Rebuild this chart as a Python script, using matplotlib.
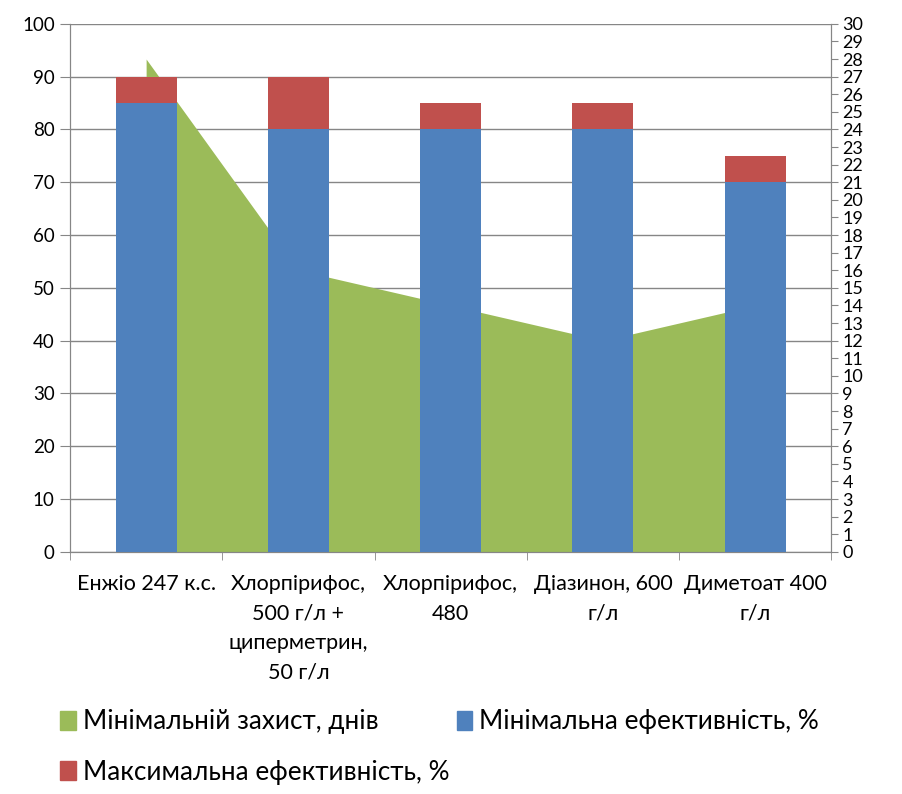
import numpy as np
import matplotlib
matplotlib.use("Agg")
import matplotlib.pyplot as plt
from matplotlib.patches import Patch

plt.rcParams['font.family'] = ['Lato', 'DejaVu Sans']

categories = ["Енжіо 247 к.с.",
              "Хлорпірифос,\n500 г/л +\nциперметрин,\n50 г/л",
              "Хлорпірифос,\n480",
              "Діазинон, 600\nг/л",
              "Диметоат 400\nг/л"]
min_eff = [85, 80, 80, 80, 70]      # Мінімальна ефективність, %
max_eff = [90, 90, 85, 85, 75]      # Максимальна ефективність, %
min_days = [28, 16, 14, 12, 14]     # Мінімальній захист, днів

blue = '#4F81BD'
red = '#C0504D'
green = '#9BBB59'
axis_gray = '#868686'

x = np.arange(len(categories))

fig = plt.figure(figsize=(9.02, 7.94), dpi=100)
ax = fig.add_axes([0.0776, 0.305, 0.844, 0.665])
ax2 = ax.twinx()

# area on the secondary axis, behind the bars
ax2.set_ylim(0, 30)
ax2.fill_between(x, 0, min_days, color=green, linewidth=0, zorder=2)
# horizontal gridlines follow the left axis ticks
left_ticks = np.arange(0, 101, 10)
ax2.hlines(left_ticks * 30 / 100, -0.5, 4.5, color=axis_gray, linewidth=1, zorder=1)

ax.set_zorder(ax2.get_zorder() + 1)
ax.patch.set_visible(False)

extra = np.array(max_eff) - np.array(min_eff)
ax.bar(x, min_eff, width=0.4, color=blue, zorder=3)
ax.bar(x, extra, width=0.4, bottom=min_eff, color=red, zorder=3)

ax.set_xlim(-0.5, 4.5)
ax2.set_xlim(-0.5, 4.5)
ax.set_ylim(0, 100)
ax.set_yticks(left_ticks)
ax2.set_yticks(np.arange(0, 31, 1))

ax.set_xticks(x)
ax.set_xticklabels(categories, fontsize=15.5, linespacing=1.6)
ax.set_xticks(np.arange(-0.5, 5, 1), minor=True)
ax.tick_params(axis='x', which='major', length=0, pad=16)
ax.tick_params(axis='x', which='minor', length=6, color=axis_gray)
ax.tick_params(axis='y', labelsize=13.5, length=7, color=axis_gray, pad=4)
ax2.tick_params(axis='y', labelsize=13, length=5, color=axis_gray, pad=3)
for a in (ax, ax2):
    for side in ('left', 'right', 'bottom'):
        a.spines[side].set_color(axis_gray)
    a.spines['top'].set_visible(False)

# legend: two rows, laid out like the Excel legend
leg_kw = dict(frameon=False, fontsize=18.8, handlelength=0.6, handleheight=0.75,
              handletextpad=0.27, borderpad=0, borderaxespad=0, loc='center left')
row1 = [Patch(color=green, label="Мінімальній захист, днів"),
        Patch(color=blue, label="Мінімальна ефективність, %")]
row2 = [Patch(color=red, label="Максимальна ефективність, %")]
leg1 = fig.legend(handles=row1, ncol=2, columnspacing=3.0,
                  bbox_to_anchor=(0.0665, 0.0907), **leg_kw)
fig.legend(handles=row2, bbox_to_anchor=(0.0665, 0.0277), **leg_kw)

fig.savefig("out.png", dpi=100)
